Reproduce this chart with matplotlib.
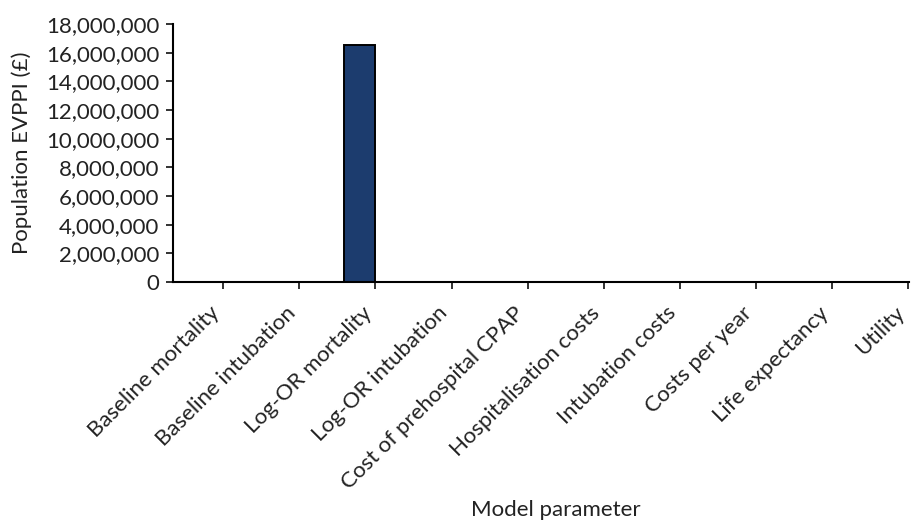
import matplotlib
matplotlib.use("Agg")
import matplotlib.pyplot as plt
from matplotlib.ticker import FuncFormatter

categories = ["Baseline mortality", "Baseline intubation", "Log-OR mortality",
              "Log-OR intubation", "Cost of prehospital CPAP", "Hospitalisation costs",
              "Intubation costs", "Costs per year", "Life expectancy", "Utility"]
values = [0, 0, 16500000, 0, 0, 0, 0, 0, 0, 0]

plt.rcParams['font.family'] = ['Lato', 'DejaVu Sans']

fig = plt.figure(figsize=(9.12, 5.26), dpi=100)
ax = fig.add_axes([0.1897, 0.4639, 0.8070, 0.4905])

pos = list(range(len(categories)))
bw = 0.41
ax.bar([p - bw / 2 for p in pos], values, width=bw, color="#1c3c6e",
       edgecolor="black", linewidth=1.4, zorder=2)

ax.set_xlim(-0.66, 9.01)
ax.set_ylim(0, 18000000)
ax.set_yticks(range(0, 18000001, 2000000))
ax.yaxis.set_major_formatter(FuncFormatter(lambda v, p: f"{int(v):,}"))
ax.set_xticks(pos)
ax.set_xticklabels(categories, rotation=45, ha="right", fontsize=16)

for s in ["top", "right"]:
    ax.spines[s].set_visible(False)
for s in ["left", "bottom"]:
    ax.spines[s].set_linewidth(1.5)
ax.tick_params(axis="both", width=1.3, length=5, colors="#222222",
               labelcolor="#222222")
ax.tick_params(axis="y", labelsize=16, pad=5)
ax.tick_params(axis="x", pad=10)

ax.set_ylabel("Population EVPPI (£)", fontsize=16, color="#222222", labelpad=10)
ax.set_xlabel("Model parameter", fontsize=16, color="#222222")
ax.xaxis.set_label_coords(0.52, -0.845)

fig.savefig("out.png", dpi=100)
